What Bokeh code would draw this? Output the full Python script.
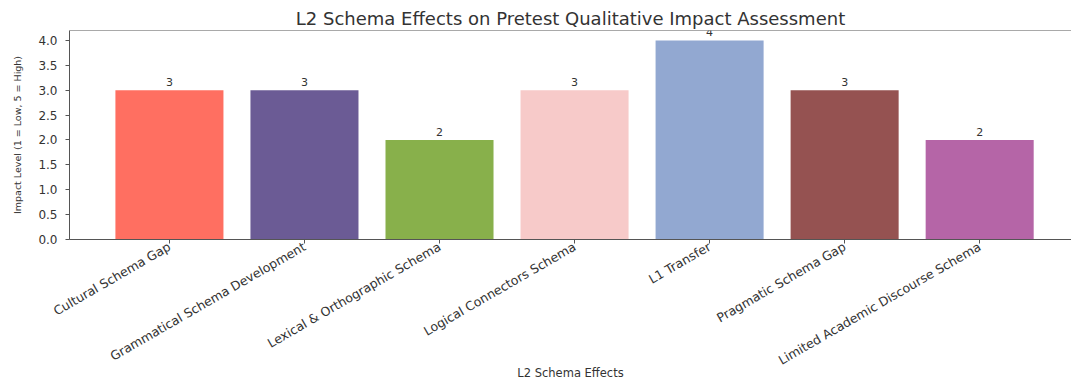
import math
from bokeh.plotting import figure
from bokeh.models import ColumnDataSource, FixedTicker, NumeralTickFormatter, Span, Range1d
from bokeh.core.properties import value
from bokeh.embed import file_html
from bokeh.resources import INLINE

categories = [
    "Cultural Schema Gap",
    "Grammatical Schema Development",
    "Lexical & Orthographic Schema",
    "Logical Connectors Schema",
    "L1 Transfer",
    "Pragmatic Schema Gap",
    "Limited Academic Discourse Schema",
]
impact = [3, 3, 2, 3, 4, 3, 2]
colors = ["#FF6F61", "#6B5B95", "#88B04B", "#F7CAC9", "#92A8D1", "#955251", "#B565A7"]
y_ticks = [0.0, 0.5, 1.0, 1.5, 2.0, 2.5, 3.0, 3.5, 4.0]

positions = list(range(len(categories)))
src = ColumnDataSource(dict(
    x=positions, top=impact, color=colors,
    label=[str(v) for v in impact], cat=categories,
))

FONT = "DejaVu Sans"
AXIS_COLOR = "#555555"
TEXT_COLOR = "#333333"

p = figure(
    width=1071, height=383,
    x_range=Range1d(-0.74, 6.68), y_range=Range1d(0, 4.2),
    output_backend="svg", toolbar_location=None,
    min_border_left=69, min_border_right=0, min_border_top=30, min_border_bottom=143,
    title="L2 Schema Effects on Pretest Qualitative Impact Assessment",
)
p.title.align = "center"
p.title.text_font = FONT
p.title.text_font_size = "18px"
p.title.text_font_style = "normal"
p.title.text_color = TEXT_COLOR
p.title.standoff = 3

p.vbar(x="x", top="top", width=0.8, color="color", line_color=None, source=src)
p.text(x="x", y="top", text="label", source=src, text_align="center",
       text_baseline="bottom", y_offset=-4, text_font=value(FONT),
       text_font_size="11px", text_color=TEXT_COLOR)

p.xgrid.grid_line_color = None
p.ygrid.grid_line_color = None
p.outline_line_color = None
p.background_fill_color = "white"
p.border_fill_color = "white"

p.add_layout(Span(location=4.2, dimension="width", line_color=AXIS_COLOR, line_width=1))

xa = p.xaxis[0]
xa.ticker = FixedTicker(ticks=positions)
xa.major_label_overrides = {i: c for i, c in zip(positions, categories)}
xa.major_label_orientation = math.pi / 6
xa.axis_label = "L2 Schema Effects"
ya = p.yaxis[0]
ya.ticker = FixedTicker(ticks=y_ticks)
ya.formatter = NumeralTickFormatter(format="0.0")
ya.axis_label = "Impact Level (1 = Low, 5 = High)"

for ax in (xa, ya):
    ax.axis_line_color = AXIS_COLOR
    ax.major_tick_line_color = AXIS_COLOR
    ax.minor_tick_line_color = None
    ax.major_tick_out = 4
    ax.major_tick_in = 0
    ax.major_label_text_font = FONT
    ax.major_label_text_color = TEXT_COLOR
    ax.axis_label_text_font = FONT
    ax.axis_label_text_font_style = "normal"
    ax.axis_label_text_color = TEXT_COLOR

ya.major_label_text_font_size = "12px"
ya.major_label_standoff = 8
ya.axis_label_text_font_size = "9.5px"
ya.axis_label_standoff = 12
xa.major_label_text_font_size = "12.5px"
xa.major_label_standoff = 2
xa.axis_label_text_font_size = "11.5px"
xa.axis_label_standoff = -11

open("out.html", "w").write(file_html(p, INLINE))
